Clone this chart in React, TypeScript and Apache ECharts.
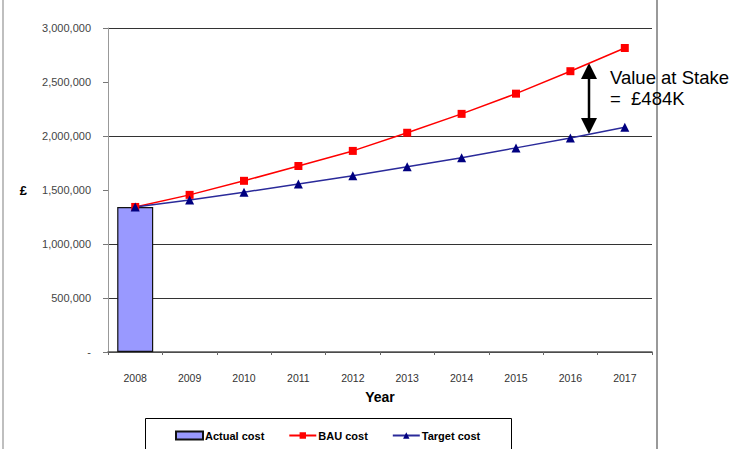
import React, { useEffect, useRef } from "react";
import * as echarts from "echarts";

const years = ["2008", "2009", "2010", "2011", "2012", "2013", "2014", "2015", "2016", "2017"];
const actualCost = [1343000, null, null, null, null, null, null, null, null, null];
const bauCost = [1343000, 1455000, 1585000, 1722000, 1862000, 2030000, 2205000, 2392000, 2600000, 2815000];
const targetCost = [1343000, 1408000, 1480000, 1556000, 1632000, 1715000, 1798000, 1890000, 1982000, 2082000];

const sans = "'Liberation Sans', Arial, sans-serif";

function fmt(v: number): string {
  if (v === 0) return "-";
  return v.toLocaleString("en-GB");
}

export default function App() {
  const ref = useRef<HTMLDivElement>(null);

  useEffect(() => {
    if (!ref.current) return;
    const chart = echarts.init(ref.current, null, { renderer: "svg" });
    chart.setOption({
      animation: false,
      backgroundColor: "#ffffff",
      grid: { left: 108, right: 88, top: 28, bottom: 97, containLabel: false },
      xAxis: {
        type: "category",
        data: years,
        boundaryGap: true,
        name: "Year",
        nameLocation: "middle",
        nameGap: 38,
        nameTextStyle: { fontFamily: sans, fontWeight: "bold", fontSize: 14, color: "#000" },
        axisLine: { lineStyle: { color: "#555", width: 1.5 } },
        axisTick: { show: true, length: 3, inside: false, lineStyle: { color: "#666" } },
        axisLabel: { fontFamily: sans, fontSize: 10.5, color: "#333", margin: 20 },
        splitLine: { show: false },
      },
      yAxis: {
        type: "value",
        min: 0,
        max: 3000000,
        interval: 500000,
        name: "£",
        nameLocation: "middle",
        nameRotate: 0,
        nameGap: 81,
        nameTextStyle: { fontFamily: sans, fontWeight: "bold", fontSize: 13, color: "#000" },
        axisLine: { show: true, lineStyle: { color: "#999", width: 1 } },
        axisTick: { show: true, length: 5, lineStyle: { color: "#777" } },
        axisLabel: { fontFamily: sans, fontSize: 11, color: "#444", margin: 17, formatter: fmt },
        splitLine: {
          show: true,
          lineStyle: {
            width: 1,
            color: ["#333", "#333", "#333", "rgba(0,0,0,0)", "#333", "rgba(0,0,0,0)", "#333"],
          },
        },
      },
      legend: {
        left: 170,
        top: 425,
        itemGap: 24,
        itemWidth: 27,
        itemHeight: 8,
        textStyle: { fontFamily: sans, fontWeight: "bold", fontSize: 11, color: "#000", padding: [0, 0, 0, -3] },
        data: [
          { name: "Actual cost", icon: "rect" },
          { name: "BAU cost" },
          { name: "Target cost" },
        ],
      },
      series: [
        {
          name: "Actual cost",
          type: "bar",
          data: actualCost,
          barWidth: 36,
          itemStyle: { color: "#9999ff", borderColor: "#111", borderWidth: 1.2 },
        },
        {
          name: "BAU cost",
          type: "line",
          data: bauCost,
          symbol: "rect",
          symbolSize: 8,
          lineStyle: { color: "#ff0000", width: 1.5 },
          itemStyle: { color: "#ff0000" },
        },
        {
          name: "Target cost",
          type: "line",
          data: targetCost,
          symbol: "triangle",
          symbolSize: 9,
          lineStyle: { color: "#2a2a9a", width: 1.5 },
          itemStyle: { color: "#000080" },
        },
      ],
      graphic: [
        { type: "line", shape: { x1: 3, y1: 0, x2: 3, y2: 449 }, style: { stroke: "#aaa", lineWidth: 1.5 } },
        { type: "line", shape: { x1: 657, y1: 0, x2: 657, y2: 449 }, style: { stroke: "#999", lineWidth: 2 } },
        { type: "rect", shape: { x: 145.5, y: 418.5, width: 366, height: 40 }, style: { fill: "none", stroke: "#000", lineWidth: 1 } },
        // value-at-stake arrow
        { type: "line", shape: { x1: 589, y1: 76, x2: 589, y2: 121 }, style: { stroke: "#000", lineWidth: 2.5 } },
        { type: "polygon", shape: { points: [[589, 63], [581, 79], [597, 79]] }, style: { fill: "#000" } },
        { type: "polygon", shape: { points: [[589, 134], [581, 118], [597, 118]] }, style: { fill: "#000" } },
        {
          type: "text",
          x: 610,
          y: 67,
          style: { text: "Value at Stake\n=  £484K", fontFamily: sans, fontSize: 18.5, lineHeight: 21, fill: "#000" },
        },
      ],
    });
    return () => chart.dispose();
  }, []);

  return <div ref={ref} style={{ width: 740, height: 449, position: "absolute", left: 0, top: 0 }} />;
}
